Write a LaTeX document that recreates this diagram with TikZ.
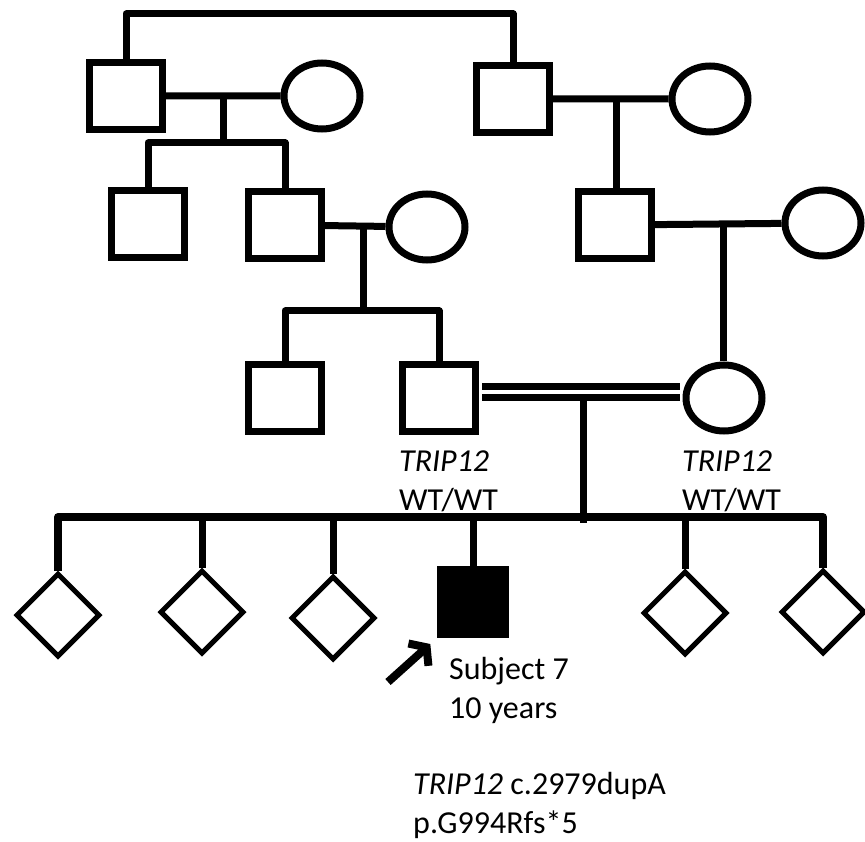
\documentclass[tikz,border=0pt]{standalone}
\usepackage{fontspec}
\setmainfont{Carlito}
\usetikzlibrary{shapes.geometric,arrows.meta}
\tikzset{
male/.style={draw,rectangle,line width=7pt,minimum width=73pt,minimum height=67pt,inner sep=0pt},
female/.style={draw,ellipse,line width=7pt,minimum width=76pt,minimum height=66pt,inner sep=0pt},
unknown/.style={draw,diamond,line width=5pt,minimum width=84pt,minimum height=84pt,inner sep=0pt},
affected/.style={male,fill=black,line width=2pt,minimum width=70pt,minimum height=70pt},
rel/.style={line width=7pt,line join=round},
sib/.style={line width=8pt,line join=round},
consang/.style={double,line width=7pt,double distance=4pt,shorten <=3pt,shorten >=3pt},
pointer/.style={line width=8pt,-{Straight Barb[length=11pt,width=30pt]},shorten >=9pt},
lbl/.style={anchor=base west,align=left,inner sep=0pt,font=\fontsize{32}{38.5}\selectfont}
}
\begin{document}
\begin{tikzpicture}[x=1pt,y=-1pt]
\useasboundingbox (0,0) rectangle (865,842);
\path
% generation I
(126,96) node[male] (I1) {}
(322,96) node[female] (I2) {}
(513,99) node[male] (I3) {}
(710,99) node[female] (I4) {}
% generation II
(148,224) node[male] (II1) {}
(285,225) node[male] (II2) {}
(427,227) node[female] (II3) {}
(615,225) node[male] (II4) {}
(823,223) node[female] (II5) {}
% generation III
(285,398) node[male] (III1) {}
(439,398) node[male] (III2) {}
(724,398) node[female] (III3) {}
% generation IV
(58,615) node[unknown] (IV1) {}
(202,612) node[unknown] (IV2) {}
(333,618) node[unknown] (IV3) {}
(473,602) node[affected] (IV4) {}
(685,613) node[unknown] (IV5) {}
(823,612) node[unknown] (IV6) {}
;
\path
(320,14) coordinate (top)
(223,96) coordinate (m1)
(223,143) coordinate (s1)
(616,99) coordinate (m2)
(363,226) coordinate (m3)
(363,311) coordinate (s2)
(723,223) coordinate (m4)
(583,397.5) coordinate (m5)
(583,523) coordinate (s3)
(440,517) coordinate (s4)
(388,682) coordinate (tail)
;
\draw[rel] (I1.north) |- (top) -| (I3.north);
\draw[rel] (I1) -- (I2) (I3) -- (I4) (II2) -- (II3) (II4) -- (II5);
\draw[rel] (m1) -- (s1) (II1.north) |- (s1) -| (II2.north);
\draw[rel] (m2) -- (m2 |- II4.north);
\draw[rel] (m3) -- (s2) (III1.north) |- (s2) -| (III2.north);
\draw[rel] (m4) -- (m4 |- III3.north);
\draw[consang] ([yshift=6pt]III2.east) -- ([yshift=6pt]III3.west);
\draw[rel] (m5) -- (s3);
\draw[sib] (IV1.north) |- (s4) -| (IV6.north);
\foreach \n in {IV2,IV3,IV4,IV5}
\draw[rel] (\n.north) -- (\n.north |- s4);
% base anchor sits on the last line
\node[lbl] (g1) at (399,510) {\textit{TRIP12}\\WT/WT};
\node[lbl] (g2) at (682,510) {\textit{TRIP12}\\WT/WT};
\node[lbl] (sub) at (449,718) {Subject 7\\10 years};
\node[lbl] (mut) at (413,833) {\textit{TRIP12} c.2979dupA\\p.G994Rfs*5};
\draw[pointer] (tail) -- (IV4.south west);
\end{tikzpicture}
\end{document}
